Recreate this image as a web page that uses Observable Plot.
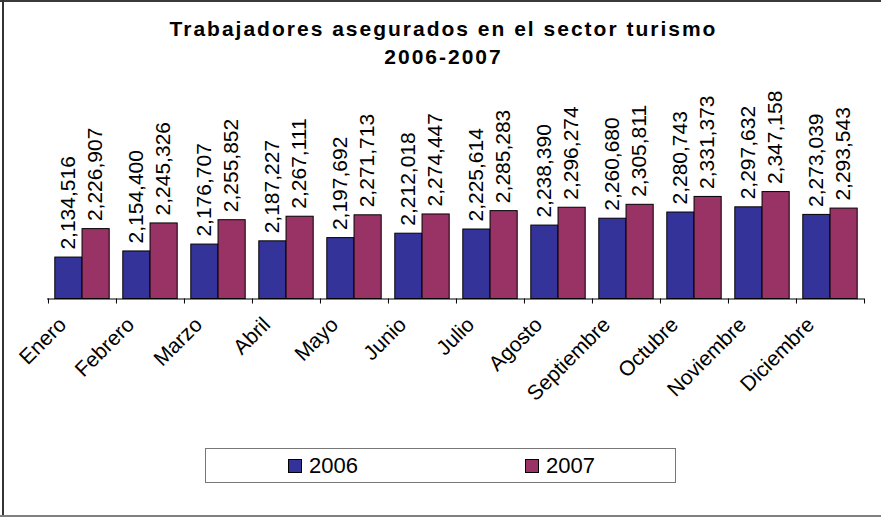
<!DOCTYPE html>
<html>
<head>
<meta charset="utf-8">
<script src="https://cdn.jsdelivr.net/npm/d3@7"></script>
<script src="https://cdn.jsdelivr.net/npm/@observablehq/plot@0.6"></script>
<style>
  body { margin: 0; background: #fff; font-family: "Liberation Sans", Arial, sans-serif; }
  #wrap { position: relative; width: 881px; height: 517px; overflow: hidden; background: #fff; }
  #title { position: absolute; left: 3px; top: 15px; width: 881px; text-align: center; font-weight: bold;
           font-size: 21px; line-height: 28px; letter-spacing: 2px; color: #000; }
  #chart { position: absolute; left: 0; top: 75px; }
  #legend { position: absolute; left: 205px; top: 448px; width: 469px; height: 33px; border: 1px solid #777; }
  .item { position: absolute; top: 0; height: 33px; display: flex; align-items: center; font-size: 22px; color: #000; }
  .sw { width: 12px; height: 12px; border: 1px solid #000; margin-right: 7px; }
  .bt { position: absolute; left: 0; top: 0; width: 881px; height: 2px; background: #3a3a3a; }
  .bl { position: absolute; left: 2px; top: 0; width: 2px; height: 517px; background: #333; }
  .bb { position: absolute; left: 0; top: 515px; width: 881px; height: 2px; background: #808080; }
</style>
</head>
<body>
<div id="wrap">
  <div id="title">Trabajadores asegurados en el sector turismo<br>2006-2007</div>
  <div id="chart"></div>
  <div id="legend">
    <div class="item" style="left:82px"><span class="sw" style="background:#333399"></span>2006</div>
    <div class="item" style="left:319px"><span class="sw" style="background:#993366"></span>2007</div>
  </div>
  <div class="bt"></div><div class="bl"></div><div class="bb"></div>
</div>
<script>
const months = ["Enero", "Febrero", "Marzo", "Abril", "Mayo", "Junio", "Julio", "Agosto", "Septiembre", "Octubre", "Noviembre", "Diciembre"];
const years = ["2006", "2007"];
const values2006 = [2134516, 2154400, 2176707, 2187227, 2197692, 2212018, 2225614, 2238390, 2260680, 2280743, 2297632, 2273039];
const values2007 = [2226907, 2245326, 2255852, 2267111, 2271713, 2274447, 2285283, 2296274, 2305811, 2331373, 2347158, 2293543];
const yTicks = [2000000, 2500000];

const colors = ["#333399", "#993366"];
const yBase = yTicks[0];
const rows2006 = months.map((m, i) => ({month: m, year: years[0], value: values2006[i]}));
const rows2007 = months.map((m, i) => ({month: m, year: years[1], value: values2007[i]}));
const fmt = d3.format(",");

const W = 881, H = 365, mL = 47, mR = 17;
const step = (W - mL - mR) / months.length;
const barW = step / 2.5, gap = (step - 2 * barW) / 2;

const chart = Plot.plot({
  width: W, height: H,
  marginLeft: mL, marginRight: mR, marginTop: 69.5, marginBottom: 141.5,
  style: {fontFamily: "'Liberation Sans', Arial, sans-serif", background: "transparent", overflow: "visible"},
  x: {domain: months, padding: 0, axis: null},
  y: {domain: yTicks, axis: null},
  marks: [
    Plot.barY(rows2006, {x: "month", y1: () => yBase, y2: "value", fill: colors[0], stroke: "#000", strokeWidth: 1,
      insetLeft: gap, insetRight: step - gap - barW}),
    Plot.barY(rows2007, {x: "month", y1: () => yBase, y2: "value", fill: colors[1], stroke: "#000", strokeWidth: 1,
      insetLeft: gap + barW, insetRight: gap}),
    Plot.ruleY([yBase], {stroke: "#000", strokeWidth: 1}),
    Plot.ruleX(months, {x: d => d, y1: () => yBase, y2: () => yBase, dx: -step / 2, insetBottom: -5, stroke: "#000"}),
    Plot.ruleX([months[months.length - 1]], {x: d => d, y1: () => yBase, y2: () => yBase, dx: step / 2, insetBottom: -5, stroke: "#000"}),
    Plot.text(rows2006, {x: "month", y: "value", text: d => fmt(d.value), rotate: -90, textAnchor: "start",
      lineAnchor: "middle", dx: -barW / 2 - 1, dy: -8, fontSize: 21, fill: "#000"}),
    Plot.text(rows2007, {x: "month", y: "value", text: d => fmt(d.value), rotate: -90, textAnchor: "start",
      lineAnchor: "middle", dx: barW / 2 - 1, dy: -8, fontSize: 21, fill: "#000"}),
    Plot.text(months, {x: d => d, frameAnchor: "bottom", rotate: -45, textAnchor: "end", lineAnchor: "bottom",
      dx: -15, dy: 27, fontSize: 21, fill: "#000"})
  ]
});
document.getElementById("chart").appendChild(chart);
</script>
</body>
</html>
